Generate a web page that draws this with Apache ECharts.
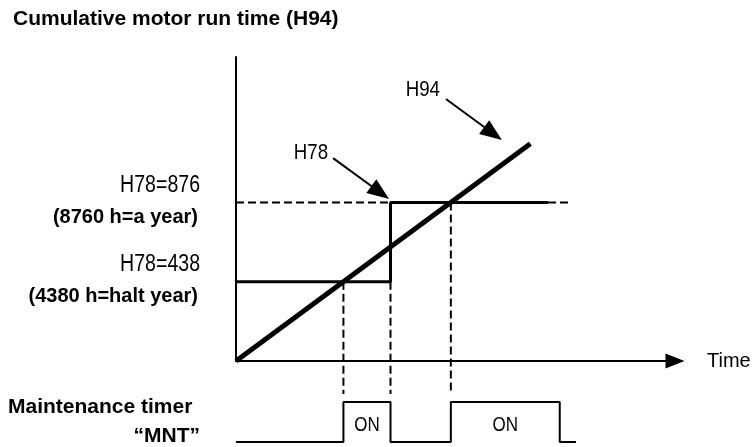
<!DOCTYPE html>
<html>
<head>
<meta charset="utf-8">
<script src="https://cdn.jsdelivr.net/npm/echarts@6/dist/echarts.min.js"></script>
<style>
html, body { margin: 0; padding: 0; background: #fff; }
#chart { width: 756px; height: 447px; }
</style>
</head>
<body>
<div id="chart"></div>
<script>
// Time and run time share one unit: 10 h (H78 = 876 -> 8760 h)
const timeMax = 1790;
const runMax = 1680;

// H94: cumulative motor run time
const h94Points = [[0, 0], [1200, 1200]];

// H78: maintenance interval setting, raised from 438 to 876 after the first service
const h78Levels = [438, 876];
const h78StepTime = 630;
const h78SolidEnd = 1272;
const h78DashEnd = 1354;

// MNT output: ON while H94 >= H78
const mntOnSpans = [[438, 630], [876, 1320]];
const mntLineEnd = 1386;
const guideBottom = -182;

// pointer arrows for the H78 / H94 callouts (start, arrow-head centre)
const h78Pointer = [[396, 1121], [588, 931]];
const h94Pointer = [[856, 1448], [1048, 1257]];

const levelCaptions = [
  ['H78=438', '(4380 h=halt year)'],
  ['H78=876', '(8760 h=a year)']
];

const SANS = "'Liberation Sans', Arial, sans-serif";
const NARROW_SCALE = 0.85;

const chart = echarts.init(document.getElementById('chart'), null, { renderer: 'canvas' });

const h78Step = [
  [0, h78Levels[0]],
  [h78StepTime, h78Levels[0]],
  [h78StepTime, h78Levels[1]],
  [h78SolidEnd, h78Levels[1]]
];

const mntSignal = [[0, 0]];
mntOnSpans.forEach(function (s) {
  mntSignal.push([s[0], 0], [s[0], 1], [s[1], 1], [s[1], 0]);
});
mntSignal.push([mntLineEnd, 0]);

// dashed drop lines where the MNT output switches
const guideStarts = [
  [mntOnSpans[0][0], h78Levels[0]],
  [mntOnSpans[0][1], h78Levels[0]],
  [mntOnSpans[1][0], h78Levels[1]]
];

const dashStyle = { color: '#000', width: 2, type: [8, 4] };

function pointer(points) {
  return {
    silent: true,
    symbol: ['none', 'triangle'],
    symbolSize: [17, 22],
    lineStyle: { color: '#000', width: 2, type: 'solid' },
    label: { show: false },
    data: [[{ coord: points[0] }, { coord: points[1] }]]
  };
}

const series = [
  {
    type: 'line', xAxisIndex: 0, yAxisIndex: 0,
    data: h78Step, symbol: 'none', silent: true,
    lineStyle: { color: '#000', width: 3 },
    markLine: pointer(h78Pointer)
  },
  {
    type: 'line', xAxisIndex: 0, yAxisIndex: 0,
    data: [[0, h78Levels[1]], [h78StepTime, h78Levels[1]]],
    symbol: 'none', silent: true, lineStyle: dashStyle
  },
  {
    type: 'line', xAxisIndex: 0, yAxisIndex: 0,
    data: [[h78SolidEnd, h78Levels[1]], [h78DashEnd, h78Levels[1]]],
    symbol: 'none', silent: true, lineStyle: dashStyle
  },
  {
    type: 'line', xAxisIndex: 0, yAxisIndex: 0,
    data: h94Points, symbol: 'none', silent: true,
    lineStyle: { color: '#000', width: 5 },
    markLine: pointer(h94Pointer)
  }
];

guideStarts.forEach(function (g) {
  series.push({
    type: 'line', xAxisIndex: 0, yAxisIndex: 0, clip: false,
    data: [g, [g[0], guideBottom]],
    symbol: 'none', silent: true, lineStyle: dashStyle
  });
});

// MNT output signal
series.push({
  type: 'line', xAxisIndex: 1, yAxisIndex: 1, clip: false,
  data: mntSignal, symbol: 'none', silent: true,
  lineStyle: { color: '#000', width: 2 }
});

const hiddenAxis = {
  type: 'value', show: true,
  axisLine: { show: false }, axisTick: { show: false },
  axisLabel: { show: false }, splitLine: { show: false }
};

chart.setOption({
  animation: false,
  backgroundColor: '#fff',
  grid: [
    { left: 236, top: 57, width: 439, height: 304 },
    { left: 236, top: 402, width: 439, height: 40 }
  ],
  xAxis: [
    {
      type: 'value', gridIndex: 0, min: 0, max: timeMax,
      name: 'Time', nameLocation: 'end', nameGap: 32,
      nameTextStyle: { color: '#000', fontFamily: SANS, fontSize: 20, verticalAlign: 'middle' },
      axisLine: {
        show: true, onZero: false,
        symbol: ['none', 'triangle'], symbolSize: [15, 19],
        lineStyle: { color: '#000', width: 2 }
      },
      axisTick: { show: false }, axisLabel: { show: false }, splitLine: { show: false }
    },
    Object.assign({}, hiddenAxis, { gridIndex: 1, min: 0, max: timeMax })
  ],
  yAxis: [
    {
      type: 'value', gridIndex: 0, min: 0, max: runMax,
      axisLine: { show: true, onZero: false, lineStyle: { color: '#000', width: 2 } },
      axisTick: { show: false }, axisLabel: { show: false }, splitLine: { show: false }
    },
    Object.assign({}, hiddenAxis, { gridIndex: 1, min: 0, max: 1 })
  ],
  series: series
});

// ---- text annotations, placed through the axes' own coordinate conversion ----
function px(gridIndex, value) {
  return chart.convertToPixel({ gridIndex: gridIndex }, value);
}

function narrowText(x, y, text, size, align) {
  return {
    type: 'text', x: x, y: y, scaleX: NARROW_SCALE, silent: true,
    style: { text: text, font: size + 'px ' + SANS, fill: '#000', align: align, verticalAlign: 'middle' }
  };
}

function boldText(x, y, text, size, align) {
  return {
    type: 'text', x: x, y: y, silent: true,
    style: { text: text, font: 'bold ' + size + 'px ' + SANS, fill: '#000', align: align, verticalAlign: 'middle' }
  };
}

const texts = [
  boldText(13, 19, 'Cumulative motor run time (H94)', 21, 'left'),
  boldText(8, 407, 'Maintenance timer', 21, 'left'),
  boldText(200, 436, '\u201CMNT\u201D', 21, 'right')
];

h78Levels.forEach(function (lv, i) {
  const p = px(0, [0, lv]);
  texts.push(narrowText(p[0] - 36, p[1] - 17, levelCaptions[i][0], 23, 'right'));
  texts.push(boldText(p[0] - 38, p[1] + 15, levelCaptions[i][1], 20, 'right'));
});

const p78 = px(0, h78Pointer[0]);
texts.push(narrowText(p78[0] - 5, p78[1] - 5, 'H78', 22, 'right'));
const p94 = px(0, h94Pointer[0]);
texts.push(narrowText(p94[0] - 6, p94[1] - 9, 'H94', 22, 'right'));

mntOnSpans.forEach(function (s) {
  const p = px(1, [(s[0] + s[1]) / 2, 0.5]);
  texts.push(narrowText(p[0], p[1] + 3, 'ON', 20, 'center'));
});

chart.setOption({ graphic: texts });
</script>
</body>
</html>
